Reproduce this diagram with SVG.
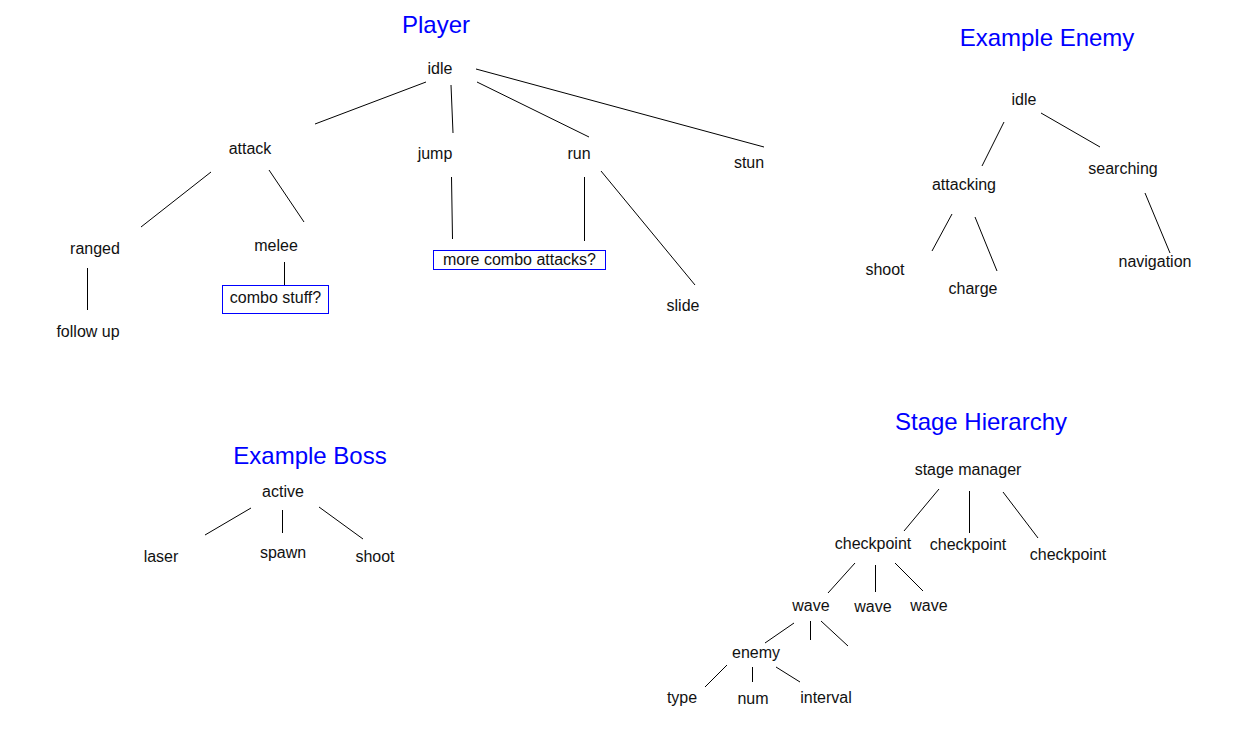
<svg xmlns="http://www.w3.org/2000/svg" width="1245" height="733" viewBox="0 0 1245 733">
<style>
text{font-family:"Liberation Sans",Arial,sans-serif;font-size:16px;fill:#111;text-anchor:middle}
.t{font-size:24px;fill:#0000ff}
.box{fill:none;stroke:#0000ff;stroke-width:1}
#connectors line{stroke:#000;stroke-width:1}
</style>
<rect width="1245" height="733" fill="#fff"/>
<g id="titles">
<text class="t" x="436" y="33">Player</text>
<text class="t" x="1047" y="46">Example Enemy</text>
<text class="t" x="310" y="464">Example Boss</text>
<text class="t" x="981" y="430">Stage Hierarchy</text>
</g>
<g id="connectors">
<line x1="315" y1="124" x2="426" y2="82"/>
<line x1="451" y1="85" x2="453" y2="133"/>
<line x1="477" y1="82" x2="589" y2="137"/>
<line x1="476" y1="69" x2="764" y2="147"/>
<line x1="211" y1="172" x2="141" y2="227"/>
<line x1="269" y1="170" x2="304" y2="222"/>
<line x1="87.5" y1="268" x2="87.5" y2="310"/>
<line x1="284.5" y1="262" x2="284.5" y2="286"/>
<line x1="451.5" y1="177" x2="452.5" y2="239"/>
<line x1="584.5" y1="177" x2="584.5" y2="241"/>
<line x1="601" y1="171" x2="695" y2="285"/>
<line x1="1004" y1="122" x2="982" y2="166"/>
<line x1="1041" y1="113" x2="1100" y2="147"/>
<line x1="952" y1="214" x2="932" y2="251"/>
<line x1="975" y1="217" x2="997" y2="271"/>
<line x1="1145" y1="193" x2="1170" y2="253"/>
<line x1="251" y1="508" x2="205" y2="535"/>
<line x1="282.5" y1="510" x2="282.5" y2="533"/>
<line x1="319" y1="507" x2="363" y2="539"/>
<line x1="939" y1="489" x2="904" y2="531"/>
<line x1="969.5" y1="491" x2="969.5" y2="533"/>
<line x1="1003" y1="492" x2="1038" y2="538"/>
<line x1="855" y1="563" x2="828" y2="593"/>
<line x1="875.5" y1="565" x2="875.5" y2="592"/>
<line x1="895" y1="563" x2="923" y2="591"/>
<line x1="794" y1="623" x2="765" y2="643"/>
<line x1="810.5" y1="621" x2="810.5" y2="640"/>
<line x1="821" y1="621" x2="848" y2="646"/>
<line x1="727" y1="665" x2="705" y2="687"/>
<line x1="752.5" y1="667" x2="752.5" y2="682"/>
<line x1="776" y1="667" x2="800" y2="682"/>
</g>
<g id="p-idle"><text x="440" y="74">idle</text></g>
<g id="p-attack"><text x="250" y="154">attack</text></g>
<g id="p-jump"><text x="435" y="159">jump</text></g>
<g id="p-run"><text x="579" y="159">run</text></g>
<g id="p-stun"><text x="749" y="168">stun</text></g>
<g id="p-ranged"><text x="95" y="254">ranged</text></g>
<g id="p-melee"><text x="276" y="251">melee</text></g>
<g id="p-combo"><rect class="box" x="222.5" y="285.5" width="106" height="28"/><text x="275.5" y="303">combo stuff?</text></g>
<g id="p-follow"><text x="88" y="337">follow up</text></g>
<g id="p-more"><rect class="box" x="433.5" y="250.5" width="172" height="19"/><text x="519.5" y="265">more combo attacks?</text></g>
<g id="p-slide"><text x="683" y="311">slide</text></g>
<g id="e-idle"><text x="1024" y="105">idle</text></g>
<g id="e-attacking"><text x="964" y="190">attacking</text></g>
<g id="e-searching"><text x="1123" y="174">searching</text></g>
<g id="e-shoot"><text x="885" y="275">shoot</text></g>
<g id="e-charge"><text x="973" y="294">charge</text></g>
<g id="e-navigation"><text x="1155" y="267">navigation</text></g>
<g id="b-active"><text x="283" y="497">active</text></g>
<g id="b-laser"><text x="161" y="562">laser</text></g>
<g id="b-spawn"><text x="283" y="558">spawn</text></g>
<g id="b-shoot"><text x="375" y="562">shoot</text></g>
<g id="s-manager"><text x="968" y="475">stage manager</text></g>
<g id="s-cp1"><text x="873" y="549">checkpoint</text></g>
<g id="s-cp2"><text x="968" y="550">checkpoint</text></g>
<g id="s-cp3"><text x="1068" y="560">checkpoint</text></g>
<g id="s-wave1"><text x="811" y="611">wave</text></g>
<g id="s-wave2"><text x="873" y="612">wave</text></g>
<g id="s-wave3"><text x="929" y="611">wave</text></g>
<g id="s-enemy"><text x="756" y="658">enemy</text></g>
<g id="s-type"><text x="682" y="703">type</text></g>
<g id="s-num"><text x="753" y="704">num</text></g>
<g id="s-interval"><text x="826" y="703">interval</text></g>
</svg>
